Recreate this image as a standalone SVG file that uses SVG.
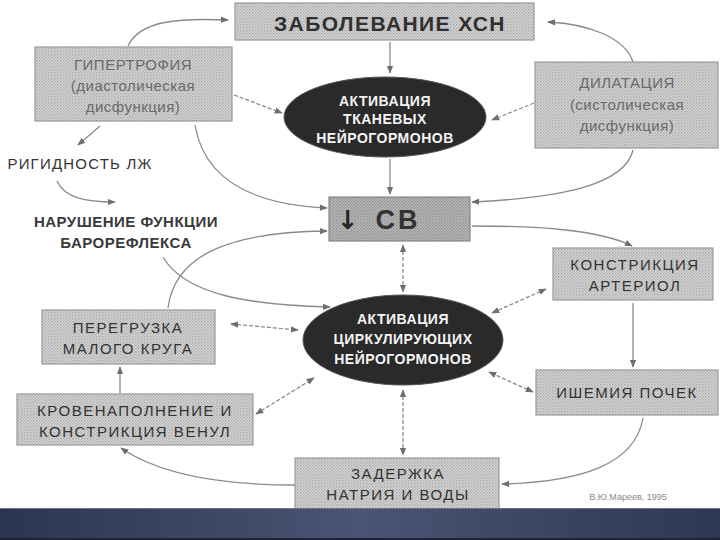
<svg xmlns="http://www.w3.org/2000/svg" width="720" height="540" viewBox="0 0 720 540">
<defs>
<style>
.box{fill:url(#dither);stroke:#9a9a9a;stroke-width:1.2}
.dark{fill:url(#ditherDark);stroke:#888;stroke-width:1.2}
.ell{fill:#2a2a2a;stroke:#555;stroke-width:1}
.t{font-family:"Liberation Sans",Arial,sans-serif;fill:#333;text-anchor:middle;font-size:15px;letter-spacing:1.5px}
.tl{font-family:"Liberation Sans",Arial,sans-serif;fill:#6a6a6a;text-anchor:middle;font-size:15px;letter-spacing:0.5px}
.tw{font-family:"Liberation Sans",Arial,sans-serif;fill:#f4f4f4;text-anchor:middle;font-size:14px;font-weight:bold;letter-spacing:0.5px}
.tb{font-family:"Liberation Sans",Arial,sans-serif;fill:#3a3a3a;text-anchor:middle;font-size:15px;font-weight:bold;letter-spacing:0.5px}
.c{fill:none;stroke:#8a8a8a;stroke-width:1.3}
.d{stroke-dasharray:4 2}
</style>
<pattern id="dither" width="3" height="3" patternUnits="userSpaceOnUse">
<rect width="3" height="3" fill="#d8d8d8"/>
<rect width="1.5" height="1.5" fill="#a9a9a9"/>
<rect x="1.5" y="1.5" width="1.5" height="1.5" fill="#b8b8b8"/>
</pattern>
<pattern id="ditherDark" width="3" height="3" patternUnits="userSpaceOnUse">
<rect width="3" height="3" fill="#bcbcbc"/>
<rect width="1.5" height="1.5" fill="#8e8e8e"/>
<rect x="1.5" y="1.5" width="1.5" height="1.5" fill="#9c9c9c"/>
</pattern>
<marker id="ah" viewBox="0 0 10 10" refX="9" refY="5" markerWidth="8" markerHeight="8" markerUnits="userSpaceOnUse" orient="auto-start-reverse">
<path d="M0,1 L10,5 L0,9 Z" fill="#6f6f6f"/>
</marker>
<linearGradient id="bar" x1="0" y1="0" x2="1" y2="0">
<stop offset="0" stop-color="#2c3550"/>
<stop offset="0.5" stop-color="#4a5474"/>
<stop offset="1" stop-color="#2e3753"/>
</linearGradient>
</defs>
<rect width="720" height="540" fill="#ffffff"/>

<g id="connectors">
<path class="c" d="M128,46 C140,20 180,18 228,20" marker-end="url(#ah)"/>
<path class="c" d="M633,62 C625,38 590,24 548,22" marker-end="url(#ah)"/>
<path class="c" d="M390,42 L390,73" marker-end="url(#ah)"/>
<path class="c d" d="M234,95 L282,113" marker-end="url(#ah)"/>
<path class="c d" d="M534,103 L492,120" marker-end="url(#ah)"/>
<path class="c" d="M390,159 L390,194" marker-end="url(#ah)"/>
<path class="c" d="M195,125 C205,185 260,205 327,208" marker-end="url(#ah)"/>
<path class="c" d="M633,150 C625,185 560,198 472,202" marker-end="url(#ah)"/>
<path class="c" d="M100,126 L78,145" marker-end="url(#ah)"/>
<path class="c" d="M57,181 C65,198 85,202 115,202" marker-end="url(#ah)"/>
<path class="c" d="M472,226 C540,226 600,230 632,246" marker-end="url(#ah)"/>
<path class="c" d="M168,308 C175,250 240,232 327,231" marker-end="url(#ah)"/>
<path class="c" d="M163,257 C185,295 250,305 330,307" marker-end="url(#ah)"/>
<path class="c d" d="M403,245 L403,292" marker-start="url(#ah)" marker-end="url(#ah)"/>
<path class="c d" d="M231,324 L298,330" marker-start="url(#ah)" marker-end="url(#ah)"/>
<path class="c d" d="M546,289 L492,313" marker-start="url(#ah)" marker-end="url(#ah)"/>
<path class="c d" d="M256,414 L314,378" marker-start="url(#ah)" marker-end="url(#ah)"/>
<path class="c d" d="M533,392 L489,372" marker-start="url(#ah)" marker-end="url(#ah)"/>
<path class="c d" d="M403,390 L403,455" marker-start="url(#ah)" marker-end="url(#ah)"/>
<path class="c" d="M633,303 L633,367" marker-end="url(#ah)"/>
<path class="c" d="M643,418 C635,465 580,482 502,484" marker-end="url(#ah)"/>
<path class="c" d="M295,485 C220,485 160,475 121,448" marker-end="url(#ah)"/>
<path class="c" d="M120,393 L120,367" marker-end="url(#ah)"/>
</g>

<g id="n-zabolevanie">
<rect class="box" x="235" y="3" width="299" height="37"/>
<text class="t" x="390" y="31" style="font-size:21px;font-weight:bold;letter-spacing:1.4px;fill:#303030">ЗАБОЛЕВАНИЕ  ХСН</text>
</g>
<g id="n-gipertrofiya">
<rect class="box" x="35" y="47" width="197" height="74"/>
<text class="tl" x="133" y="70">ГИПЕРТРОФИЯ</text>
<text class="tl" x="133" y="91">(диастолическая</text>
<text class="tl" x="133" y="112">дисфункция)</text>
</g>
<g id="n-dilatatsiya">
<rect class="box" x="535" y="62" width="183" height="86"/>
<text class="tl" x="627" y="88">ДИЛАТАЦИЯ</text>
<text class="tl" x="627" y="110">(систолическая</text>
<text class="tl" x="627" y="131">дисфункция)</text>
</g>
<g id="n-tkanevye">
<ellipse class="ell" cx="385" cy="117" rx="101" ry="40"/>
<text class="tw" x="385" y="106">АКТИВАЦИЯ</text>
<text class="tw" x="385" y="124">ТКАНЕВЫХ</text>
<text class="tw" x="385" y="143">НЕЙРОГОРМОНОВ</text>
</g>
<g id="n-rigidnost">
<text class="t" x="80" y="169" style="letter-spacing:1.2px">РИГИДНОСТЬ  ЛЖ</text>
</g>
<g id="n-baroreflex">
<text class="tb" x="126" y="227">НАРУШЕНИЕ ФУНКЦИИ</text>
<text class="tb" x="126" y="248">БАРОРЕФЛЕКСА</text>
</g>
<g id="n-sv">
<rect class="dark" x="329" y="197" width="141" height="44"/>
<text x="348" y="229" style="font-family:'DejaVu Sans',sans-serif;font-weight:bold;font-size:26px;fill:#262626;text-anchor:middle">↓</text>
<text class="t" x="398" y="229" style="font-size:27px;font-weight:bold;letter-spacing:3px;fill:#333">СВ</text>
</g>
<g id="n-konstr-arteriol">
<rect class="box" x="553" y="248" width="160" height="52"/>
<text class="t" x="635" y="270">КОНСТРИКЦИЯ</text>
<text class="t" x="635" y="291">АРТЕРИОЛ</text>
</g>
<g id="n-tsirkuliruyushchie">
<ellipse class="ell" cx="403" cy="340" rx="100" ry="45"/>
<text class="tw" x="403" y="324">АКТИВАЦИЯ</text>
<text class="tw" x="403" y="344">ЦИРКУЛИРУЮЩИХ</text>
<text class="tw" x="403" y="364">НЕЙРОГОРМОНОВ</text>
</g>
<g id="n-peregruzka">
<rect class="box" x="42" y="310" width="173" height="54"/>
<text class="t" x="128" y="333">ПЕРЕГРУЗКА</text>
<text class="t" x="128" y="354">МАЛОГО КРУГА</text>
</g>
<g id="n-krovenapolnenie">
<rect class="box" x="17" y="394" width="236" height="51"/>
<text class="t" x="135" y="416">КРОВЕНАПОЛНЕНИЕ  И</text>
<text class="t" x="135" y="437">КОНСТРИКЦИЯ  ВЕНУЛ</text>
</g>
<g id="n-ishemiya">
<rect class="box" x="536" y="370" width="182" height="45"/>
<text class="t" x="627" y="398">ИШЕМИЯ  ПОЧЕК</text>
</g>
<g id="n-zaderzhka">
<rect class="box" x="295" y="458" width="204" height="52"/>
<text class="t" x="398" y="479">ЗАДЕРЖКА</text>
<text class="t" x="398" y="500">НАТРИЯ И ВОДЫ</text>
</g>
<text x="628" y="500" style="font-family:'Liberation Sans',Arial,sans-serif;font-size:9px;fill:#888;text-anchor:middle">В.Ю.Мареев, 1995</text>

<rect x="0" y="508" width="720" height="32" fill="url(#bar)"/>
<rect x="0" y="508" width="720" height="1" fill="#6a7390"/>
<rect x="0" y="538" width="720" height="2" fill="#1e2436"/>
</svg>
